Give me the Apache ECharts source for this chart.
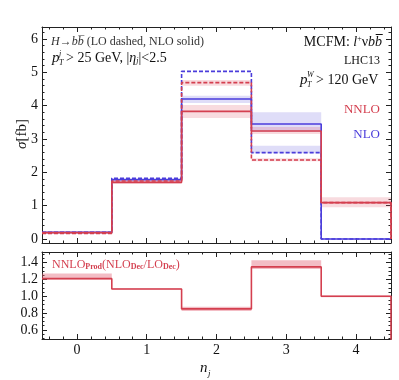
<!DOCTYPE html>
<html><head><meta charset="utf-8">
<script src="https://cdn.jsdelivr.net/npm/echarts@6/dist/echarts.min.js"></script>
<style>html,body{margin:0;padding:0;background:#fff}#c{width:399px;height:380px}</style>
</head><body><div id="c"></div>
<script>
// ---- data ----
const bins = [0, 1, 2, 3, 4];
const nloSolid   = [0.20, 1.78, 4.20, 3.45, 0.00];   // NLO decay, blue solid
const nloDashed  = [0.20, 1.82, 5.03, 2.59, 0.00];   // LO decay, blue dashed
const nnloSolid  = [0.19, 1.70, 3.83, 3.24, 1.09];   // NLO decay, red solid
const nnloDashed = [0.17, 1.74, 4.69, 2.37, 1.09];   // LO decay, red dashed
const nloSolidLo   = [null, 1.76, 4.08, 3.22, null];
const nloSolidHi   = [null, 1.80, 4.30, 3.80, null];
const nloDashedLo  = [null, null, null, 2.57, null];
const nloDashedHi  = [null, null, null, 2.80, null];
const nnloSolidLo  = [0.17, 1.66, 3.63, 3.15, 0.95];
const nnloSolidHi  = [0.21, 1.74, 4.02, 3.36, 1.25];
const nnloDashedLo = [null, 1.72, 4.60, 2.33, null];
const nnloDashedHi = [null, 1.77, 4.77, 2.42, null];
const ratio   = [1.21, 1.087, 0.85, 1.35, 1.00];
const ratioLo = [1.20, 1.08, 0.825, 1.325, 0.99];
const ratioHi = [1.27, 1.095, 0.876, 1.43, 1.01];
const xTicks = [0, 1, 2, 3, 4];
const topTicks = [0, 1, 2, 3, 4, 5, 6];
const ratioTicks = [0.6, 0.8, 1.0, 1.2, 1.4];

const RED = '#d43f4f', BLUE = '#4b3ddb';
const FONT = 'Liberation Serif';
const X_RANGE = [-0.5, 4.5], TOP_RANGE = [-0.12, 6.36], RATIO_RANGE = [0.492, 1.527];

function minorVals(range, step) {
  const out = [];
  const start = Math.ceil(range[0] / step - 1e-9);
  for (let k = start; k * step <= range[1] + 1e-9; k++) out.push(+(k * step).toFixed(6));
  return out;
}

function stepData(vals) {
  const pts = bins.map((b, i) => [b - 0.5, vals[i]]);
  pts.push([bins[bins.length - 1] + 0.5, vals[vals.length - 1]]);
  pts.push([bins[bins.length - 1] + 0.5, 0]);
  return pts;
}
function stepSeries(vals, color, dashed, gi, z) {
  return { type: 'line', xAxisIndex: gi * 4, yAxisIndex: gi * 4, step: 'end', symbol: 'none',
    data: stepData(vals), z: z || 5, clip: true, animation: false,
    lineStyle: { color: color, width: 1.6, type: dashed ? [4, 2] : 'solid' } };
}
function bandSeries(lo, hi, color, gi) {
  const data = bins.map((b, i) => [b, lo[i], hi[i]]).filter(d => d[1] != null);
  return { type: 'custom', xAxisIndex: gi * 4, yAxisIndex: gi * 4, clip: true, z: 2, animation: false,
    data: data,
    renderItem: (params, api) => {
      const x = api.value(0), l = api.value(1), h = api.value(2);
      const p1 = api.coord([x - 0.5, h]), p2 = api.coord([x + 0.5, l]);
      return { type: 'rect', shape: { x: p1[0], y: p1[1], width: p2[0] - p1[0], height: p2[1] - p1[1] },
        style: { fill: color } };
    } };
}
function axis(gi, pos, range, tickVals, len, labelVals, fmt, lineShow) {
  return { type: 'value', gridIndex: gi, position: pos, min: range[0], max: range[1],
    axisLine: { show: lineShow, onZero: false, lineStyle: { color: '#222', width: 1 } },
    splitLine: { show: false },
    axisTick: { show: true, inside: true, length: len, customValues: tickVals, lineStyle: { color: '#222', width: 1 } },
    minorTick: { show: false },
    axisLabel: labelVals ? { show: true, customValues: labelVals, fontFamily: FONT, fontSize: 14, color: '#111',
      margin: pos === 'bottom' ? 4 : 4, formatter: fmt } : { show: false } };
}
function axisSet(gi, dim, range, majors, step, labels, fmt) {
  const minors = minorVals(range, step).filter(v => !majors.some(m => Math.abs(m - v) < 1e-6));
  const p1 = dim === 'x' ? 'bottom' : 'left', p2 = dim === 'x' ? 'top' : 'right';
  return [
    axis(gi, p1, range, majors, 5, labels ? majors : null, fmt, true),
    axis(gi, p1, range, minors, 2.5, null, null, false),
    axis(gi, p2, range, majors, 5, null, null, true),
    axis(gi, p2, range, minors, 2.5, null, null, false)
  ];
}

const chart = echarts.init(document.getElementById('c'), null, { renderer: 'canvas' });
chart.setOption({
  backgroundColor: '#fff',
  animation: false,
  grid: [
    { left: 42, right: 8, top: 27, height: 216 },
    { left: 42, right: 8, top: 252, height: 87 }
  ],
  xAxis: [].concat(
    axisSet(0, 'x', X_RANGE, xTicks, 0.2, false),
    axisSet(1, 'x', X_RANGE, xTicks, 0.2, true, v => String(Math.round(v)))
  ),
  yAxis: [].concat(
    axisSet(0, 'y', TOP_RANGE, topTicks, 0.2, true, v => String(Math.round(v))),
    axisSet(1, 'y', RATIO_RANGE, ratioTicks, 0.05, true, v => v.toFixed(1))
  ),
  series: [
    bandSeries(nloSolidLo, nloSolidHi, 'rgba(110,100,225,0.22)', 0),
    bandSeries(nloDashedLo, nloDashedHi, 'rgba(110,100,225,0.22)', 0),
    bandSeries(nnloSolidLo, nnloSolidHi, 'rgba(225,90,110,0.22)', 0),
    bandSeries(nnloDashedLo, nnloDashedHi, 'rgba(225,90,110,0.22)', 0),
    stepSeries(nloDashed, BLUE, true, 0, 5),
    stepSeries(nloSolid, BLUE, false, 0, 6),
    stepSeries(nnloDashed, RED, true, 0, 7),
    stepSeries(nnloSolid, RED, false, 0, 8),
    bandSeries(ratioLo, ratioHi, 'rgba(225,90,110,0.4)', 1),
    stepSeries(ratio, RED, false, 1, 8)
  ],
  graphic: [
    // left annotations
    { type: 'text', left: 51, top: 36, style: { text: '{i|H}\u2192{i|bb\u0305} (LO dashed, NLO solid)',
      font: '12px ' + FONT, fill: '#333', rich: { i: { fontStyle: 'italic', fontFamily: FONT, fontSize: 12 } } } },
    { type: 'text', left: 52, top: 51, style: { text: 'p', font: 'italic 15px ' + FONT, fill: '#111' } },
    { type: 'text', left: 59, top: 50, style: { text: 'j', font: 'italic 8px ' + FONT, fill: '#111' } },
    { type: 'text', left: 59, top: 59, style: { text: 'T', font: 'italic 8px ' + FONT, fill: '#111' } },
    { type: 'text', left: 66, top: 51, style: { text: '> 25 GeV, |{i|\u03b7}{s|j}|<2.5', font: '14px ' + FONT, fill: '#111',
      rich: { i: { fontStyle: 'italic', fontFamily: FONT, fontSize: 14 },
              s: { fontStyle: 'italic', fontFamily: FONT, fontSize: 8, verticalAlign: 'bottom', padding: [5, 0, 0, 0] } } } },
    // right annotations
    { type: 'text', right: 17, top: 35, style: { text: 'MCFM: {i|l}{p|+}\u03bd{i|bb\u0305}', font: '14px ' + FONT, fill: '#111',
      rich: { i: { fontStyle: 'italic', fontFamily: FONT, fontSize: 14 },
              p: { fontFamily: FONT, fontSize: 8, verticalAlign: 'top', padding: [0, 0, 6, 0] } } } },
    { type: 'text', right: 19, top: 55, style: { text: 'LHC13', font: '12px ' + FONT, fill: '#111' } },
    { type: 'text', left: 300, top: 73, style: { text: 'p', font: 'italic 15px ' + FONT, fill: '#111' } },
    { type: 'text', left: 307, top: 71, style: { text: 'W', font: 'italic 8px ' + FONT, fill: '#111' } },
    { type: 'text', left: 307, top: 81, style: { text: 'T', font: 'italic 8px ' + FONT, fill: '#111' } },
    { type: 'text', left: 316, top: 73, style: { text: '> 120 GeV', font: '14px ' + FONT, fill: '#111' } },
    { type: 'text', right: 19, top: 103, style: { text: 'NNLO', font: '13px ' + FONT, fill: RED } },
    { type: 'text', right: 19, top: 128, style: { text: 'NLO', font: '13px ' + FONT, fill: BLUE } },
    // ratio label
    { type: 'text', left: 52, top: 259, style: { text: 'NNLO{s|Prod}(NLO{s|Dec}/LO{s|Dec})', font: '12px ' + FONT, fill: RED,
      rich: { s: { fontFamily: FONT, fontSize: 8, fontWeight: 'bold', verticalAlign: 'bottom', padding: [3, 0, 0, 0] } } } },
    // axis titles
    { type: 'text', x: 22, y: 134, rotation: Math.PI / 2, style: { text: '{i|\u03c3}[fb]', font: '15px ' + FONT, fill: '#111',
      align: 'center', verticalAlign: 'middle', rich: { i: { fontStyle: 'italic', fontFamily: FONT, fontSize: 15 } } } },
    { type: 'text', left: 200, top: 361, style: { text: 'n', font: 'italic 15px ' + FONT, fill: '#111' } },
    { type: 'text', left: 208, top: 369, style: { text: 'j', font: 'italic 9px ' + FONT, fill: '#111' } }
  ]
});
</script></body></html>
